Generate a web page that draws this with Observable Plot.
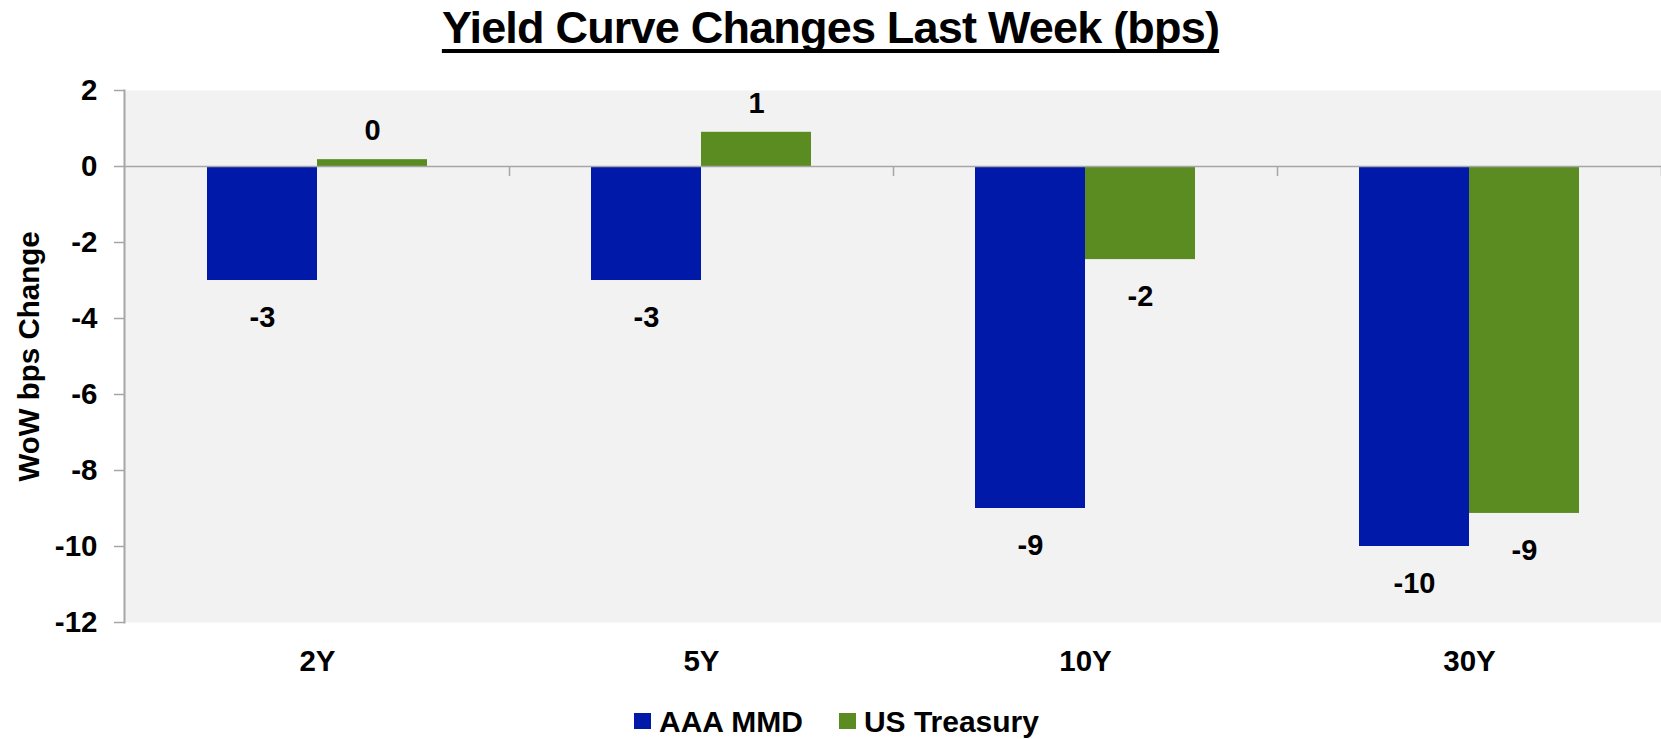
<!DOCTYPE html>
<html>
<head>
<meta charset="utf-8">
<script src="https://cdn.jsdelivr.net/npm/d3@7"></script>
<script src="https://cdn.jsdelivr.net/npm/@observablehq/plot@0.6"></script>
<style>
  html, body { margin: 0; padding: 0; background: #fff; overflow: hidden; }
  body { width: 1661px; height: 739px; position: relative; font-family: "Liberation Sans", Arial, sans-serif; }
  #title {
    position: absolute; left: 0; top: 5px; width: 1661px; text-align: center;
    font-size: 45px; line-height: 45px; font-weight: bold; letter-spacing: -0.8px; color: #000;
  }
  #title span { text-decoration: underline; text-decoration-thickness: 4px; text-underline-offset: 6px; text-decoration-skip-ink: none; }
  #chart { position: absolute; left: 0; top: 60px; }
  #legend {
    position: absolute; left: 6px; top: 707px; width: 1661px; display: flex; justify-content: center; align-items: center;
    font-size: 30px; line-height: 30px; font-weight: bold; color: #000;
  }
  .item { display: flex; align-items: center; margin: 0 18px; }
  .sw { width: 17px; height: 16px; margin-right: 8px; margin-top: -2px; }
</style>
</head>
<body>
<div id="title"><span>Yield Curve Changes Last Week (bps)</span></div>
<div id="chart"></div>
<div id="legend"></div>
<script>
// ---- data ----
const tenors = ["2Y", "5Y", "10Y", "30Y"];
const seriesNames = ["AAA MMD", "US Treasury"];
const mmdValues = [-3, -3, -9, -10];
const tsyValues = [0.18, 0.9, -2.45, -9.13];
const mmdLabels = [-3, -3, -9, -10];
const tsyLabels = [0, 1, -2, -9];
const yTicks = [2, 0, -2, -4, -6, -8, -10, -12];
const colors = ["#0019A8", "#5B8C21"];

const rows = [];
tenors.forEach((t, i) => {
  rows.push({tenor: t, series: seriesNames[0], value: mmdValues[i], label: String(mmdLabels[i])});
  rows.push({tenor: t, series: seriesNames[1], value: tsyValues[i], label: String(tsyLabels[i])});
});

const FONT = "Liberation Sans, Arial, sans-serif";
const AXIS = "#a6a6a6";

function seriesMarks(name, color, side) {
  const data = rows.filter(d => d.series === name);
  const blue = side < 0;
  return [
    Plot.barY(data, {
      x: "tenor", y: "value", fill: color,
      insetLeft: blue ? 82 : 192, insetRight: blue ? 192 : 82
    }),
    Plot.text(data.filter(d => d.value < 0), {
      x: "tenor", y: "value", text: "label", dx: side * 55, dy: 37,
      lineAnchor: "middle", fontSize: 29, fontWeight: "bold", fill: "#000"
    }),
    Plot.text(data.filter(d => d.value >= 0), {
      x: "tenor", y: "value", text: "label", dx: side * 55, dy: -29,
      lineAnchor: "middle", fontSize: 29, fontWeight: "bold", fill: "#000"
    })
  ];
}

const chart = Plot.plot({
  width: 1661,
  height: 640,
  marginTop: 30,
  marginBottom: 78,
  marginLeft: 124,
  marginRight: 0,
  style: {fontFamily: FONT, fontWeight: "bold", background: "transparent", color: "#000"},
  x: {type: "band", domain: tenors, padding: 0, axis: null},
  y: {domain: [-12, 2], axis: null},
  marks: [
    Plot.frame({fill: "#f2f2f2", stroke: null}),
    ...seriesMarks(seriesNames[0], colors[0], -1),
    ...seriesMarks(seriesNames[1], colors[1], 1),
    Plot.ruleY([0], {stroke: AXIS, strokeWidth: 1.5}),
    Plot.ruleX(tenors, {x: d => d, y1: 0, y2: 0, insetBottom: -10, dx: 192, stroke: AXIS, strokeWidth: 1.5}),
    Plot.frame({anchor: "left", stroke: AXIS, strokeWidth: 2}),
    Plot.axisY({
      ticks: yTicks, tickSize: 10, tickPadding: 17, tickFormat: d => String(d),
      stroke: AXIS, strokeWidth: 1.5, fill: "#000", fontSize: 29.5, fontWeight: "bold",
      label: "WoW bps Change", labelAnchor: "center", labelOffset: 106, labelArrow: "none"
    }),
    Plot.axisX({
      tickSize: 0, tickPadding: 28, fontSize: 29.5, fontWeight: "bold", fill: "#000", label: null
    })
  ]
});
document.getElementById("chart").appendChild(chart);

const legend = document.getElementById("legend");
seriesNames.forEach((name, i) => {
  const item = document.createElement("div");
  item.className = "item";
  const sw = document.createElement("div");
  sw.className = "sw";
  sw.style.background = colors[i];
  const label = document.createElement("span");
  label.textContent = name;
  item.appendChild(sw);
  item.appendChild(label);
  legend.appendChild(item);
});
</script>
</body>
</html>
